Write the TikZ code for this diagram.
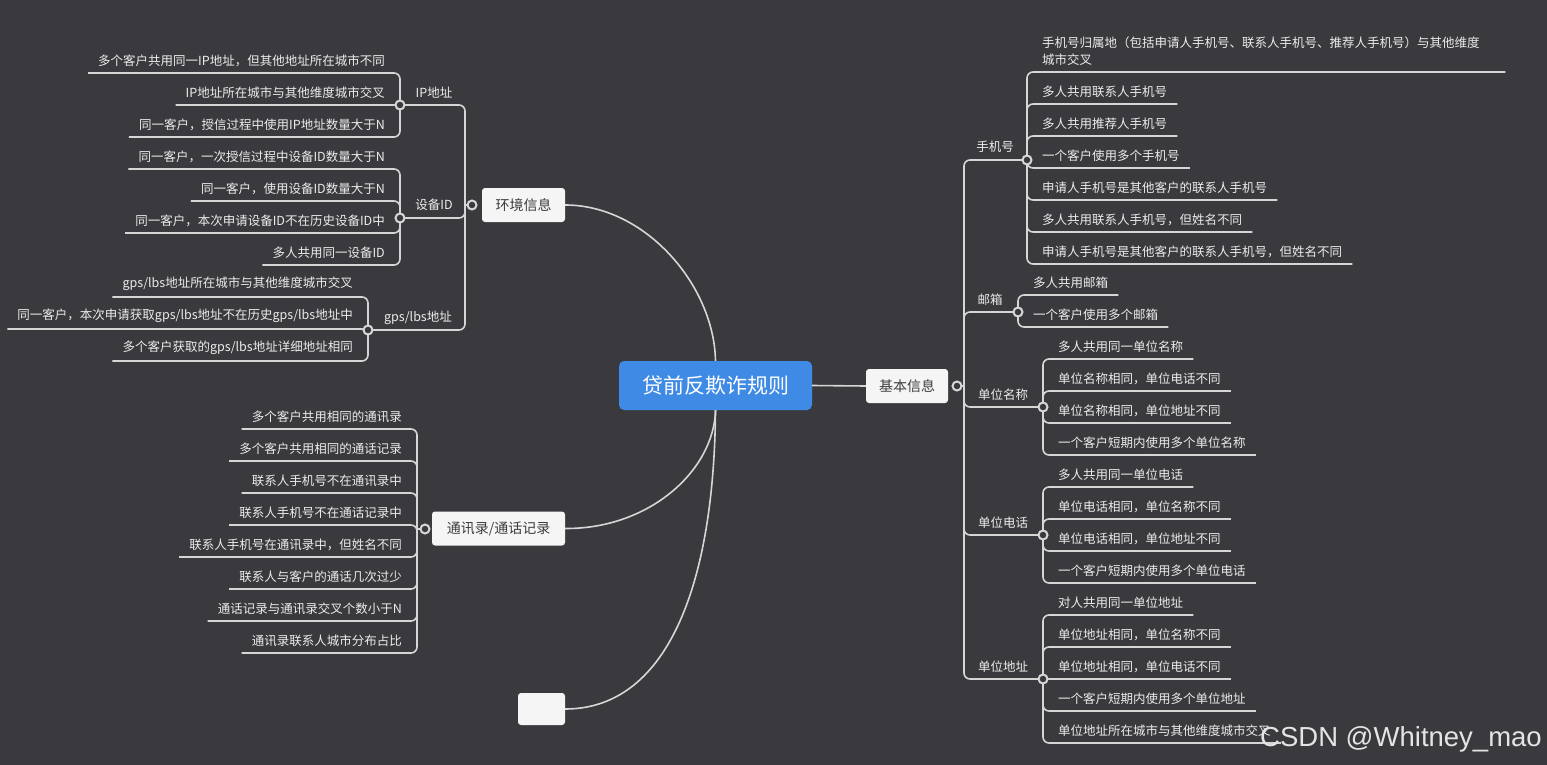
\documentclass[tikz,border=0pt]{standalone}
\usepackage{fontspec}
\setmainfont{Noto Sans CJK SC}
\newfontfamily\wmfont{Liberation Sans}
\definecolor{bgc}{RGB}{58,58,62}
\definecolor{lnc}{RGB}{214,214,214}
\definecolor{txc}{RGB}{236,236,236}
\definecolor{bluec}{RGB}{62,138,228}
\definecolor{topc}{RGB}{245,245,245}
\definecolor{tptxt}{RGB}{60,60,60}
\definecolor{wmc}{RGB}{228,228,228}
\begin{document}
\begin{tikzpicture}[x=1pt,y=-1pt,
  txt/.style={text=txc, font=\fontsize{12.5}{17}\selectfont},
  leafR/.style={txt, anchor=south west, inner xsep=10pt, inner ysep=6.3pt},
  leafL/.style={txt, anchor=south east, inner xsep=10pt, inner ysep=6.3pt},
  lab/.style={txt, inner sep=1pt},
  br/.style={draw=lnc, line width=1.6pt, rounded corners=6pt},
  dot/.style={circle, draw=lnc, fill=bgc, line width=2pt, minimum size=9pt, inner sep=0pt},
  topic/.style={fill=topc, rounded corners=3pt, text=tptxt, font=\fontsize{14}{16}\selectfont, minimum height=34pt, inner sep=0pt},
]
\fill[bgc] (0,0) rectangle (1547,765);
\useasboundingbox (0,0) rectangle (1547,765);

% central and topic nodes
\node[fill=bluec, rounded corners=5pt, minimum width=193pt, minimum height=49pt, text=white, font=\fontsize{21}{24}\selectfont, inner sep=0pt] (cn) at (715.5,385.5) {贷前反欺诈规则};
\node[topic, minimum width=82pt] (jb) at (907,386) {基本信息};
\node[topic, minimum width=83pt] (hj) at (523.5,205) {环境信息};
\node[topic, minimum width=133pt] (tx) at (498.5,528.5) {通讯录/通话记录};
\node[topic, minimum width=47pt, minimum height=32pt] (bk) at (541.5,709) {};

\draw[br] (cn.east) -- (jb.west);
\draw[br] (hj.east) .. controls (645,205) and (714,285) .. (cn.north);
\draw[br] (tx.east) .. controls (650,529) and (714,470) .. (cn.south);
\draw[br] (bk.east) .. controls (665,709) and (714,590) .. (cn.south);

% ---------- right side: 基本信息
\coordinate (jbd) at (957,386);
\coordinate (jbj) at (964,386);
\coordinate (phc) at (1027,160);
\coordinate (mxc) at (1018,312);
\coordinate (dmc) at (1043,407);
\coordinate (dhc) at (1043,535);
\coordinate (ddc) at (1043,679);
\draw[br] (jbd) -- (jbj);
\foreach \c in {phc,mxc,dmc,dhc,ddc} \draw[br] (jbj) |- (\c);
\node[lab] (phl) at (995,147) {手机号};
\node[lab] (mxl) at (990,300) {邮箱};
\node[lab] (dml) at (1003,395) {单位名称};
\node[lab] (dhl) at (1003,523) {单位电话};
\node[lab] (ddl) at (1003,667) {单位地址};

\node[leafR, align=left, text width=453pt] (ph1) at (1032,72) {手机号归属地（包括申请人手机号、联系人手机号、推荐人手机号）与其他维度\\城市交叉};
\draw[br] (phc) |- (ph1.south east);
\foreach \y/\t [count=\i from 2] in {104/{多人共用联系人手机号},136/{多人共用推荐人手机号},168/{一个客户使用多个手机号},200/{申请人手机号是其他客户的联系人手机号},232/{多人共用联系人手机号，但姓名不同},264/{申请人手机号是其他客户的联系人手机号，但姓名不同}}{
  \node[leafR] (ph\i) at (1032,\y) {\t};
  \draw[br] (phc) |- (ph\i.south east);
}
\foreach \y/\t [count=\i] in {295/{多人共用邮箱},327/{一个客户使用多个邮箱}}{
  \node[leafR] (mx\i) at (1023,\y) {\t};
  \draw[br] (mxc) |- (mx\i.south east);
}
\foreach \y/\t [count=\i] in {359/{多人共用同一单位名称},391/{单位名称相同，单位电话不同},423/{单位名称相同，单位地址不同},455/{一个客户短期内使用多个单位名称}}{
  \node[leafR] (dm\i) at (1048,\y) {\t};
  \draw[br] (dmc) |- (dm\i.south east);
}
\foreach \y/\t [count=\i] in {487/{多人共用同一单位电话},519/{单位电话相同，单位名称不同},551/{单位电话相同，单位地址不同},583/{一个客户短期内使用多个单位电话}}{
  \node[leafR] (dh\i) at (1048,\y) {\t};
  \draw[br] (dhc) |- (dh\i.south east);
}
\foreach \y/\t [count=\i] in {615/{对人共用同一单位地址},647/{单位地址相同，单位名称不同},679/{单位地址相同，单位电话不同},711/{一个客户短期内使用多个单位地址},743/{单位地址所在城市与其他维度城市交叉}}{
  \node[leafR] (dd\i) at (1048,\y) {\t};
  \draw[br] (ddc) |- (dd\i.south east);
}

% ---------- left side: 环境信息
\coordinate (hjd) at (472,205);
\coordinate (hjj) at (465,205);
\coordinate (ipc) at (400,105);
\coordinate (dvc) at (400,218);
\coordinate (gpc) at (368,330);
\draw[br] (hjd) -- (hjj);
\foreach \c in {ipc,dvc,gpc} \draw[br] (hjj) |- (\c);
\node[lab] (ipl) at (434,93) {IP地址};
\node[lab] (dvl) at (434,205) {设备ID};
\node[lab] (gpl) at (418,318) {gps/lbs地址};

\foreach \y/\t [count=\i] in {73/{多个客户共用同一IP地址，但其他地址所在城市不同},105/{IP地址所在城市与其他维度城市交叉},137/{同一客户，授信过程中使用IP地址数量大于N}}{
  \node[leafL] (ip\i) at (395,\y) {\t};
  \draw[br] (ipc) |- (ip\i.south west);
}
\foreach \y/\t [count=\i] in {169/{同一客户，一次授信过程中设备ID数量大于N},201/{同一客户，使用设备ID数量大于N},233/{同一客户，本次申请设备ID不在历史设备ID中},265/{多人共用同一设备ID}}{
  \node[leafL] (dv\i) at (395,\y) {\t};
  \draw[br] (dvc) |- (dv\i.south west);
}
\foreach \y/\t [count=\i] in {297/{gps/lbs地址所在城市与其他维度城市交叉},329/{同一客户，本次申请获取gps/lbs地址不在历史gps/lbs地址中},361/{多个客户获取的gps/lbs地址详细地址相同}}{
  \node[leafL] (gp\i) at (363,\y) {\t};
  \draw[br] (gpc) |- (gp\i.south west);
}

% ---------- left side: 通讯录/通话记录
\coordinate (txd) at (425,529);
\coordinate (txj) at (417,529);
\draw[br] (txd) -- (txj);
\foreach \y/\t [count=\i] in {429/{多个客户共用相同的通讯录},461/{多个客户共用相同的通话记录},493/{联系人手机号不在通讯录中},525/{联系人手机号不在通话记录中},557/{联系人手机号在通讯录中，但姓名不同},589/{联系人与客户的通话几次过少},621/{通话记录与通讯录交叉个数小于N},653/{通讯录联系人城市分布占比}}{
  \node[leafL] (tx\i) at (412,\y) {\t};
  \draw[br] (txj) |- (tx\i.south west);
}

% dots on top
\foreach \c in {jbd,phc,mxc,dmc,dhc,ddc,hjd,ipc,dvc,gpc,txd} \node[dot] (\c d) at (\c) {};

% watermark
\node[anchor=south east, text=wmc, font=\wmfont\fontsize{27.5}{29}\selectfont, inner sep=0pt] (wm) at (1542,752) {CSDN @Whitney\_mao};
\end{tikzpicture}
\end{document}
